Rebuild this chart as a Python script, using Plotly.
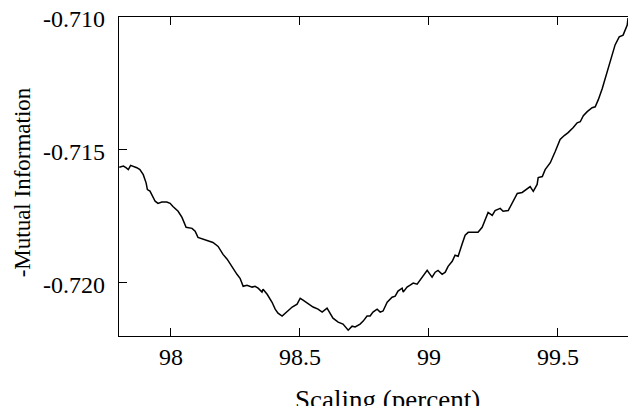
import plotly.graph_objects as go

scaling = [97.801, 97.817, 97.827, 97.836, 97.845, 97.855, 97.869, 97.881, 97.894, 97.905,
           97.910, 97.920, 97.931, 97.940, 97.951, 97.966, 97.985, 97.998, 98.009, 98.029,
           98.044, 98.060, 98.083, 98.095, 98.106, 98.126, 98.141, 98.164, 98.184, 98.203,
           98.219, 98.238, 98.257, 98.269, 98.281, 98.296, 98.316, 98.327, 98.339, 98.354,
           98.358, 98.374, 98.393, 98.405, 98.416, 98.432, 98.451, 98.471, 98.490, 98.502,
           98.513, 98.533, 98.552, 98.571, 98.587, 98.606, 98.618, 98.629, 98.649, 98.668,
           98.688, 98.703, 98.715, 98.734, 98.746, 98.761, 98.773, 98.784, 98.800, 98.812,
           98.823, 98.839, 98.858, 98.870, 98.881, 98.897, 98.901, 98.916, 98.928, 98.940,
           98.955, 98.967, 98.979, 98.994, 99.005, 99.013, 99.025, 99.036, 99.052, 99.064,
           99.075, 99.091, 99.102, 99.114, 99.129, 99.141, 99.153, 99.180, 99.191, 99.207,
           99.219, 99.230, 99.246, 99.257, 99.277, 99.288, 99.308, 99.323, 99.343, 99.362,
           99.381, 99.393, 99.405, 99.420, 99.424, 99.440, 99.451, 99.471, 99.490, 99.509,
           99.525, 99.540, 99.560, 99.575, 99.587, 99.599, 99.614, 99.633, 99.645, 99.657,
           99.672, 99.691, 99.703, 99.722, 99.738, 99.753, 99.769, 99.772]

neg_mutual_info = [-0.71565, -0.71561, -0.71567, -0.71574, -0.71558, -0.71561, -0.71567, -0.71574, -0.71593, -0.71624,
                   -0.71649, -0.71655, -0.71674, -0.71693, -0.71701, -0.71696, -0.71696, -0.71701, -0.71713, -0.71731,
                   -0.71754, -0.71791, -0.71795, -0.71806, -0.71829, -0.71836, -0.71840, -0.71848, -0.71863, -0.71893,
                   -0.71911, -0.71941, -0.71968, -0.71983, -0.72013, -0.72009, -0.72016, -0.72013, -0.72020, -0.72035,
                   -0.72024, -0.72043, -0.72073, -0.72099, -0.72114, -0.72125, -0.72110, -0.72091, -0.72080, -0.72058,
                   -0.72065, -0.72080, -0.72091, -0.72099, -0.72110, -0.72095, -0.72118, -0.72133, -0.72148, -0.72155,
                   -0.72178, -0.72163, -0.72166, -0.72155, -0.72144, -0.72125, -0.72125, -0.72110, -0.72099, -0.72110,
                   -0.72106, -0.72073, -0.72054, -0.72050, -0.72031, -0.72020, -0.72035, -0.72016, -0.72009, -0.72001,
                   -0.72005, -0.71990, -0.71975, -0.71953, -0.71968, -0.71979, -0.71960, -0.71953, -0.71968, -0.71960,
                   -0.71938, -0.71919, -0.71896, -0.71900, -0.71855, -0.71821, -0.71810, -0.71810, -0.71810, -0.71791,
                   -0.71765, -0.71735, -0.71746, -0.71728, -0.71720, -0.71731, -0.71728, -0.71698, -0.71664, -0.71660,
                   -0.71645, -0.71638, -0.71656, -0.71630, -0.71604, -0.71600, -0.71574, -0.71548, -0.71506, -0.71461,
                   -0.71446, -0.71435, -0.71416, -0.71398, -0.71394, -0.71371, -0.71356, -0.71341, -0.71338, -0.71311,
                   -0.71270, -0.71206, -0.71161, -0.71105, -0.71075, -0.71068, -0.71030, -0.71004]

x_ticks = [98, 98.5, 99, 99.5]
x_tick_labels = ["98", "98.5", "99", "99.5"]
y_ticks = [-0.720, -0.715, -0.710]
y_tick_labels = ["-0.720", "-0.715", "-0.710"]

FONT = "Liberation Serif"
TICK_FONT = dict(family=FONT, size=24, color="black")

fig = go.Figure(go.Scatter(x=scaling, y=neg_mutual_info, mode="lines",
                           line=dict(color="black", width=1.5), hoverinfo="skip"))

annotations = [
    dict(text="Scaling (percent)", xref="paper", yref="paper",
         x=0.527, y=-0.2, xanchor="center", yanchor="middle",
         showarrow=False, font=dict(family=FONT, size=27, color="black")),
    dict(text="-Mutual Information", xref="paper", yref="paper",
         x=-0.189, y=0.481, xanchor="center", yanchor="middle", textangle=-90,
         showarrow=False, font=dict(family=FONT, size=23, color="black")),
]
for v, t in zip(x_ticks, x_tick_labels):
    annotations.append(dict(text=t, xref="x", yref="paper", x=v, y=0,
                            xanchor="center", yanchor="top", yshift=-6,
                            showarrow=False, font=TICK_FONT))
for v, t in zip(y_ticks, y_tick_labels):
    annotations.append(dict(text=t, xref="paper", yref="y", x=0, y=v,
                            xanchor="right", yanchor="middle", xshift=-12, yshift=-2,
                            showarrow=False, font=TICK_FONT))

fig.update_layout(
    width=628, height=406,
    margin=dict(l=119, r=0, t=17, b=70, autoexpand=False),
    paper_bgcolor="white", plot_bgcolor="white",
    showlegend=False,
    font=dict(family=FONT, color="black", size=24),
    xaxis=dict(range=[97.8, 99.772], tickvals=x_ticks, showticklabels=False,
               ticks="inside", ticklen=8, tickwidth=1, tickcolor="black",
               showline=True, linecolor="black", linewidth=1.3, mirror="ticks",
               showgrid=False, zeroline=False, automargin=False),
    yaxis=dict(range=[-0.722, -0.710], tickvals=y_ticks, showticklabels=False,
               ticks="inside", ticklen=8, tickwidth=1, tickcolor="black",
               showline=True, linecolor="black", linewidth=1.3, mirror=False,
               showgrid=False, zeroline=False, automargin=False),
    annotations=annotations,
)

fig.write_html("out.html", config={"displayModeBar": False},
               post_script="document.body.style.margin='0';document.body.style.overflow='hidden';")
